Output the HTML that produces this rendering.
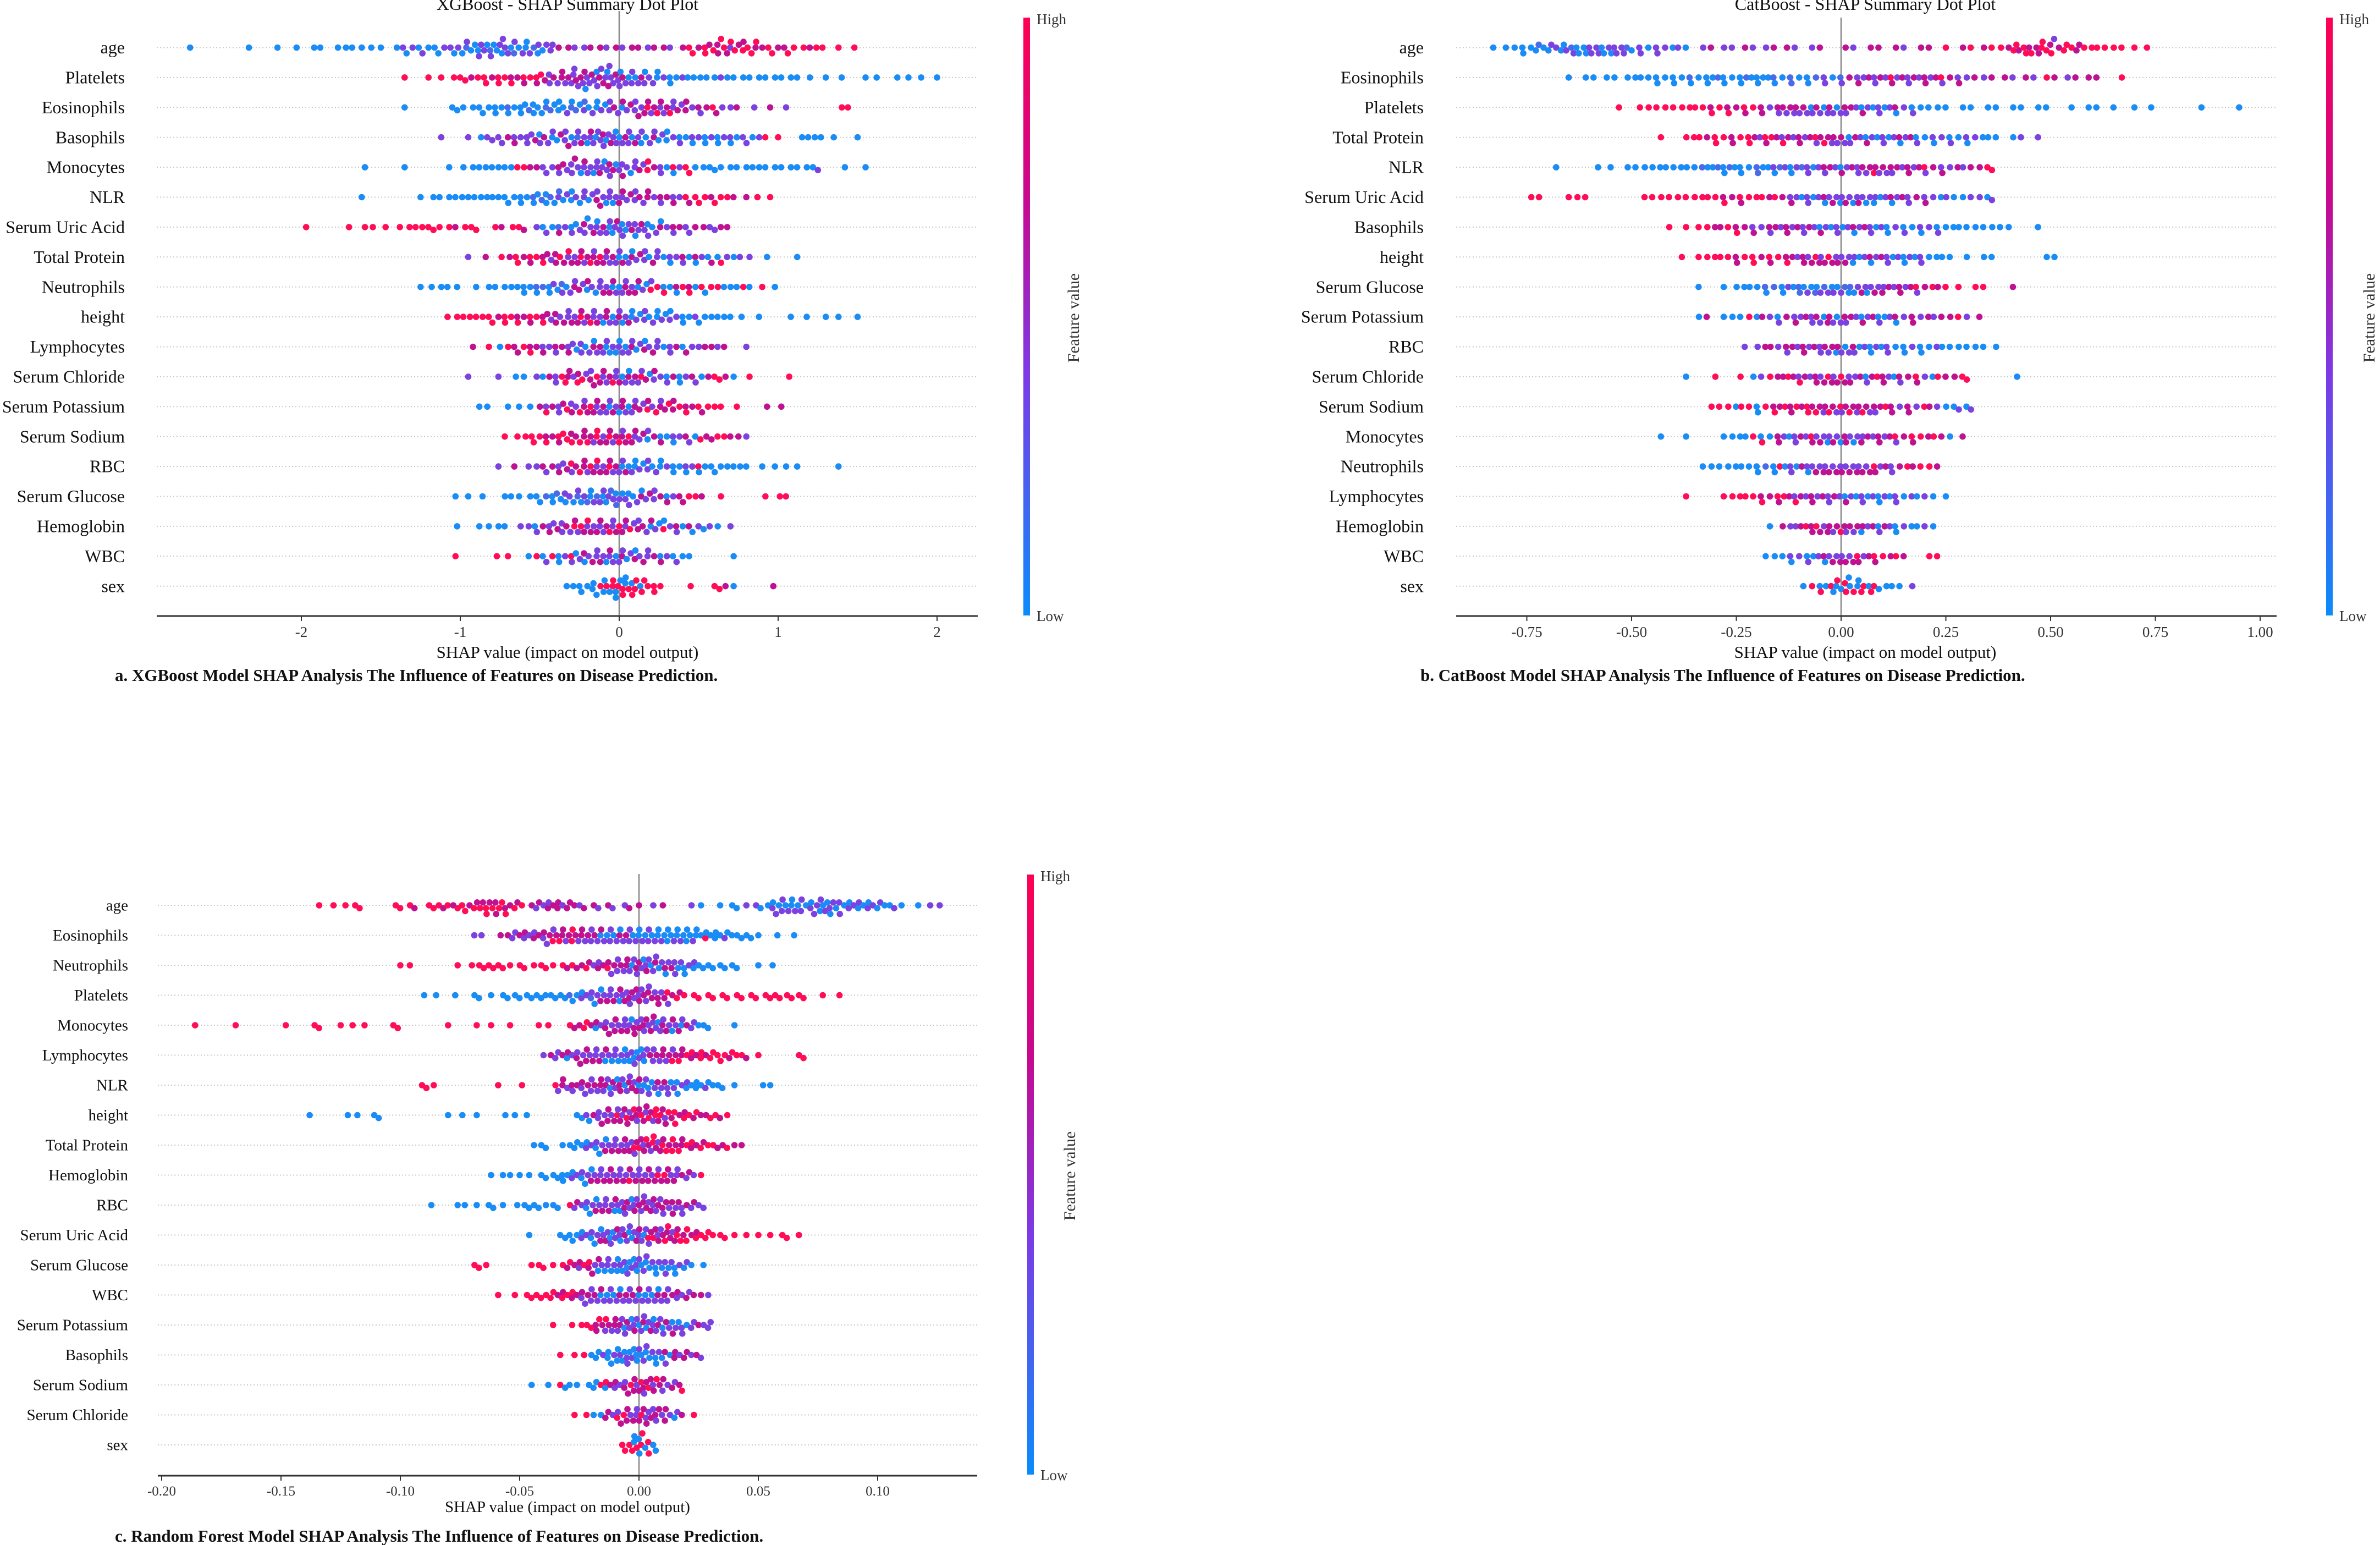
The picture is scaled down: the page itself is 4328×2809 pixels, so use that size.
<!DOCTYPE html>
<html><head><meta charset="utf-8"><style>
html,body{margin:0;padding:0;background:#fff;}
svg{display:block;font-family:"Liberation Serif",serif;}
</style></head><body>
<svg id="fig" width="4328" height="2809" viewBox="0 0 4328 2809" xmlns="http://www.w3.org/2000/svg">
<defs>
<linearGradient id="cbgrad" x1="0" y1="0" x2="0" y2="1">
<stop offset="0" stop-color="#ff0052"/><stop offset="0.3" stop-color="#c8088e"/><stop offset="0.6" stop-color="#7c3ae6"/><stop offset="1" stop-color="#0a8cfb"/>
</linearGradient>
</defs>
</svg>
<script>
// ===== XGBoost data =====
const xgbFeatures = ["age","Platelets","Eosinophils","Basophils","Monocytes","NLR","Serum Uric Acid","Total Protein","Neutrophils","height","Lymphocytes","Serum Chloride","Serum Potassium","Serum Sodium","RBC","Serum Glucose","Hemoglobin","WBC","sex"];
const xgbTicks = [-2,-1,0,1,2];
const xgbTickLabels = ["-2","-1","0","1","2"];
const xgbPoints = [
["-2.7:b","-2.33:b","-2.15:b","-2.03:b","-1.9:bb","-1.77:b","-1.7:bb","-1.62:b","-1.56:b","-1.5:b","-1.38:bv","-1.3:bvb","-1.2:vbb","-1.1:bvv","-1.0:bvbl","-0.92:vbbv","-0.85:bvvbl","-0.77:vbbvv","-0.7:bvvbl","-0.62:vbvb","-0.55:bvlb","-0.47:vbvv","-0.4:vp","-0.3:pv","-0.2:vp","-0.1:pv","0:pv","0.1:pp","0.2:vp","0.3:pv","0.42:pr","0.5:rpr","0.58:rprp","0.66:prrpv","0.74:rrpr","0.82:prrp","0.9:rpr","1.0:rpp","1.08:rr","1.18:rp","1.26:rr","1.38:r","1.48:r"],
["-1.35:r","-1.2:r","-1.12:r","-1.02:rr","-0.95:rp","-0.87:rr","-0.8:rpr","-0.72:rrp","-0.64:rpr","-0.56:prr","-0.48:prpv","-0.4:vpvp","-0.32:pvpvv","-0.25:vpvpvb","-0.18:pvvpvb","-0.1:vpvpvbv","-0.03:pvvpvb","0.04:vpvbv","0.12:vbvpv","0.2:bvvb","0.28:bvb","0.36:bbv","0.45:bb","0.53:bb","0.62:bv","0.7:bb","0.8:bb","0.9:bb","1.0:bb","1.1:bb","1.2:b","1.3:b","1.4:b","1.55:b","1.62:b","1.75:b","1.82:b","1.9:b","2.0:b"],
["-1.35:b","-1.05:b","-1.0:bb","-0.9:bb","-0.82:bbb","-0.74:bbl","-0.66:bbb","-0.58:bblb","-0.5:bbbl","-0.42:blbb","-0.34:bbvl","-0.26:blbv","-0.18:lbvb","-0.1:bvbv","-0.02:vpvb","0.06:pvpv","0.14:vpvpr","0.22:pvprv","0.3:pvprv","0.38:vpvp","0.46:pvp","0.55:vpr","0.63:pv","0.72:vp","0.85:v","0.95:p","1.05:v","1.42:rr"],
["-1.12:v","-0.95:v","-0.85:bv","-0.78:vv","-0.7:vpv","-0.62:pvv","-0.54:vvpb","-0.46:vpvb","-0.38:vbpv","-0.3:vpbvl","-0.22:vpvbv","-0.14:pvbvvp","-0.06:vbvpvb","0.02:vbvpv","0.1:vbpvb","0.18:vbvp","0.26:vbvb","0.34:bvb","0.42:vbv","0.5:bvb","0.58:bvb","0.66:bvv","0.74:bbv","0.82:vb","0.9:vr","1.0:r","1.17:bb","1.25:bb","1.35:b","1.5:b"],
["-1.6:b","-1.35:b","-1.07:b","-0.98:b","-0.9:bb","-0.82:bb","-0.74:bb","-0.66:br","-0.58:rp","-0.5:pv","-0.42:vvp","-0.34:vpvv","-0.26:vpvbv","-0.18:pvvbv","-0.1:vpvbvp","-0.02:vpbvv","0.06:pvbv","0.14:vpvr","0.22:rpv","0.3:vbr","0.38:bvr","0.46:rb","0.55:bb","0.62:bb","0.72:bb","0.82:bb","0.9:bb","1.0:bb","1.1:bb","1.2:bb","1.25:v","1.42:b","1.55:b"],
["-1.62:b","-1.25:b","-1.15:bb","-1.05:bb","-0.95:bbb","-0.85:bb","-0.76:bbb","-0.66:bbb","-0.58:bbl","-0.5:bblb","-0.42:blbv","-0.34:lbvb","-0.26:bvbv","-0.18:vbvp","-0.1:vpvbv","-0.02:vbvpv","0.06:pvpv","0.14:vpvp","0.22:pvp","0.3:vpv","0.38:pvr","0.46:pr","0.54:rrp","0.62:rr","0.7:rp","0.8:p","0.87:r","0.95:r"],
["-1.97:r","-1.7:r","-1.6:r","-1.55:r","-1.47:r","-1.38:r","-1.3:rr","-1.22:rr","-1.15:rr","-1.05:rp","-0.95:rr","-0.9:r","-0.76:rp","-0.65:rr","-0.6:p","-0.5:vb","-0.42:vbl","-0.34:pvb","-0.26:vbvp","-0.18:vbvpv","-0.1:bvpvb","-0.02:vbvpvb","0.06:vbvpv","0.14:bvpvb","0.22:vbvp","0.3:bvp","0.38:vpv","0.46:vp","0.55:pv","0.62:vp","0.68:p"],
["-0.95:v","-0.84:p","-0.74:r","-0.67:pr","-0.6:rpr","-0.52:prp","-0.44:rpvp","-0.36:prpv","-0.28:rpvpr","-0.2:pvprp","-0.12:vprpv","-0.04:pvpvb","0.04:vpbvp","0.12:bvpv","0.2:vbpv","0.28:vbv","0.36:bvp","0.44:vbp","0.52:bvb","0.6:pb","0.66:rv","0.74:bv","0.82:v","0.93:b","1.12:b"],
["-1.25:b","-1.18:b","-1.1:bb","-1.02:b","-0.9:b","-0.8:bb","-0.72:b","-0.64:bbb","-0.56:bbl","-0.48:blb","-0.4:bvbl","-0.32:vbvp","-0.24:vpvb","-0.16:pvbv","-0.08:vpvpb","0:pvbvp","0.08:vpvpb","0.16:pvbr","0.24:vrb","0.32:rbp","0.4:brp","0.48:rbr","0.56:br","0.64:rb","0.72:bb","0.8:rb","0.9:r","0.98:b"],
["-1.08:r","-1.0:rr","-0.92:rr","-0.84:rr","-0.76:rpr","-0.68:rrp","-0.6:rpr","-0.52:prp","-0.44:rpvp","-0.36:pvpv","-0.28:vpvpr","-0.2:pvprv","-0.12:vpvbp","-0.04:pvbvp","0.04:vbvpb","0.12:bvbv","0.2:vbvb","0.28:bvbv","0.36:bvb","0.44:bbv","0.52:bb","0.6:bb","0.68:bb","0.77:b","0.88:b","1.08:b","1.18:b","1.3:b","1.38:b","1.5:b"],
["-0.92:p","-0.82:r","-0.75:b","-0.68:rp","-0.6:prp","-0.52:rpv","-0.44:pvp","-0.36:vpv","-0.28:pvbv","-0.2:vbvp","-0.12:bvpvb","-0.04:vbvbv","0.04:bvbvp","0.12:vbvp","0.2:bvpv","0.28:vbv","0.36:vpb","0.44:pv","0.52:vp","0.6:pv","0.66:p","0.8:v"],
["-0.95:v","-0.76:v","-0.65:b","-0.6:b","-0.5:vb","-0.42:pv","-0.36:vrp","-0.3:rpvr","-0.22:prvp","-0.14:vprpv","-0.06:pvprv","0.02:vpbvp","0.1:bvpvr","0.18:vpbv","0.26:pvb","0.34:vpb","0.42:bvp","0.5:vb","0.58:pr","0.65:rp","0.72:b","0.82:r","1.07:r"],
["-0.88:b","-0.83:b","-0.7:b","-0.63:b","-0.56:b","-0.48:pv","-0.42:rpv","-0.34:vprv","-0.26:pvrp","-0.18:vprpv","-0.1:pvpvb","-0.02:vpvbp","0.06:pvbvp","0.14:vpvr","0.22:pvrp","0.3:vprp","0.38:prp","0.46:rpr","0.54:pr","0.62:rr","0.74:r","0.93:p","1.02:p"],
["-0.72:r","-0.64:r","-0.57:rr","-0.5:rrp","-0.42:rpr","-0.34:prrp","-0.26:rprp","-0.18:prpvr","-0.1:rpvpr","-0.02:pvprp","0.06:vprpv","0.14:pvpb","0.22:vpb","0.3:pbv","0.38:bvp","0.46:vb","0.53:rp","0.6:pr","0.68:rp","0.75:p","0.8:v"],
["-0.76:v","-0.66:p","-0.57:v","-0.5:vp","-0.42:vpv","-0.34:pvpr","-0.26:vprp","-0.18:pvrpv","-0.1:rpvpr","-0.02:pvpvb","0.06:vpbvb","0.14:bvbv","0.22:vbvb","0.3:bvb","0.38:bbv","0.46:bvr","0.54:bbb","0.62:bb","0.7:bb","0.78:bb","0.9:b","0.98:b","1.05:b","1.12:b","1.38:b"],
["-1.03:b","-0.95:b","-0.86:b","-0.7:bb","-0.63:b","-0.54:bb","-0.46:blb","-0.38:blbv","-0.3:bvbl","-0.22:vbvlb","-0.14:bvlvb","-0.06:vbvlvb","0.02:lvbvb","0.1:vbvp","0.18:bvpv","0.26:vpb","0.34:pvp","0.42:pr","0.5:rp","0.64:r","0.92:r","1.03:rr"],
["-1.02:b","-0.88:b","-0.82:b","-0.74:bb","-0.62:v","-0.55:vb","-0.48:vpv","-0.4:pvpv","-0.32:vpvr","-0.24:pvrpv","-0.16:rpvpv","-0.08:pvprv","0:vprpv","0.08:prvp","0.16:vpvb","0.24:pvbr","0.32:bvp","0.4:vbp","0.48:bv","0.55:bv","0.62:b","0.7:v"],
["-1.03:r","-0.77:r","-0.7:r","-0.57:b","-0.5:rb","-0.42:vrb","-0.34:bvr","-0.26:vbvp","-0.18:bvpv","-0.1:vpvbv","-0.02:pvbvp","0.06:vbvp","0.14:bvpv","0.22:vpb","0.3:pvb","0.38:vb","0.44:b","0.72:b"],
["-0.33:b","-0.27:bb","-0.2:bbb","-0.13:bbrb","-0.06:brbrb","0:rbrbrb","0.06:rbrbr","0.12:rrbr","0.18:rrr","0.24:rr","0.45:r","0.6:r","0.65:rp","0.72:b","0.97:p"]
];
// ===== CatBoost data =====
const catFeatures = ["age","Eosinophils","Platelets","Total Protein","NLR","Serum Uric Acid","Basophils","height","Serum Glucose","Serum Potassium","RBC","Serum Chloride","Serum Sodium","Monocytes","Neutrophils","Lymphocytes","Hemoglobin","WBC","sex"];
const catTicks = [-0.75,-0.5,-0.25,0,0.25,0.5,0.75,1.0];
const catTickLabels = ["-0.75","-0.50","-0.25","0.00","0.25","0.50","0.75","1.00"];
const catPoints = [
["-0.83:b","-0.8:b","-0.77:bb","-0.74:bbl","-0.71:bbv","-0.68:bvb","-0.65:bvlb","-0.62:vbbv","-0.59:bvvb","-0.56:vbvv","-0.53:bvvl","-0.5:vbv","-0.46:vbv","-0.42:vvb","-0.38:vb","-0.32:vp","-0.27:vv","-0.22:pv","-0.17:vp","-0.12:pv","-0.06:vp","0.02:pv","0.08:pp","0.14:pv","0.2:pp","0.25:r","0.3:pr","0.35:pr","0.4:rpr","0.43:rprp","0.46:rrpr","0.49:prrpv","0.52:rpr","0.55:rrp","0.58:prr","0.62:rr","0.66:rr","0.7:r","0.73:r"],
["-0.65:b","-0.6:bb","-0.55:bb","-0.5:bb","-0.46:bbb","-0.42:bbb","-0.38:bbl","-0.34:bbb","-0.3:bblb","-0.26:bbb","-0.22:blbb","-0.18:bbbl","-0.14:bbl","-0.1:lbb","-0.06:blv","-0.02:vbl","0.02:vpv","0.06:pvpv","0.1:vpvr","0.14:pvpv","0.18:vpvp","0.22:pvpr","0.26:vpv","0.3:pvp","0.35:vp","0.4:pv","0.45:pv","0.5:rp","0.55:vp","0.6:pp","0.67:r"],
["-0.53:r","-0.48:r","-0.45:rr","-0.41:rr","-0.37:rr","-0.33:rrp","-0.29:rrp","-0.25:rpr","-0.21:prp","-0.17:pvp","-0.13:vpvpv","-0.09:pvpvb","-0.05:vpvbv","-0.01:pvbvp","0.03:vpvb","0.07:pvbv","0.11:vbvp","0.15:bvb","0.19:vbb","0.24:bb","0.3:bb","0.36:bb","0.42:bb","0.48:bb","0.55:b","0.6:bb","0.65:b","0.7:b","0.74:b","0.86:b","0.95:b"],
["-0.43:r","-0.36:rr","-0.32:rpr","-0.28:rrp","-0.24:prr","-0.2:rpvr","-0.16:prpv","-0.12:rpvp","-0.08:pvpr","-0.04:vprpv","0:pvpvb","0.04:vpvb","0.08:pvbv","0.12:vbvp","0.16:bvpb","0.2:vbv","0.24:bvb","0.28:vbv","0.32:bvb","0.36:bb","0.42:bv","0.47:v"],
["-0.68:b","-0.58:b","-0.55:b","-0.5:bb","-0.45:bbb","-0.4:bbb","-0.35:bbl","-0.3:bblb","-0.26:blbb","-0.22:bbl","-0.18:lbbv","-0.14:blvb","-0.1:bvlv","-0.06:vbvp","-0.02:vpvb","0.02:pvpv","0.06:vpvpr","0.1:pvpvp","0.14:vpvp","0.18:pvpr","0.22:vpv","0.26:pvp","0.3:vp","0.34:pr","0.36:r"],
["-0.73:rr","-0.65:r","-0.62:rr","-0.46:rr","-0.42:rr","-0.38:rr","-0.34:rr","-0.3:rrp","-0.26:rpr","-0.22:prr","-0.18:rp","-0.14:rpv","-0.1:pvbv","-0.06:vbvp","-0.02:bvpvb","0.02:vpvbv","0.06:pvbvb","0.1:vbvp","0.14:bvpv","0.18:vpv","0.22:pvb","0.26:vb","0.3:bv","0.34:vb","0.36:v"],
["-0.41:r","-0.37:r","-0.34:r","-0.31:rp","-0.27:prp","-0.23:rpv","-0.19:pvp","-0.15:vpvp","-0.11:pvpv","-0.07:vpvb","-0.03:pvbv","0.01:vbvp","0.05:bvpv","0.09:vbvb","0.13:bvb","0.17:vbv","0.21:bvb","0.25:vbb","0.29:bb","0.33:bb","0.37:bb","0.4:b","0.47:b"],
["-0.38:r","-0.34:r","-0.31:rr","-0.27:rrp","-0.23:prr","-0.19:rpr","-0.15:prp","-0.11:rpvp","-0.07:pvprp","-0.03:vprpv","0.01:pvpvb","0.05:vbvp","0.09:bvpv","0.13:vbvb","0.17:bvbv","0.21:vbb","0.25:bb","0.3:b","0.35:bb","0.5:bb"],
["-0.34:b","-0.28:b","-0.24:bb","-0.2:bbl","-0.16:blb","-0.12:bvbl","-0.08:lbvbl","-0.04:bvlvb","0:vbvlb","0.04:lbvpv","0.08:bvpvp","0.12:vpvp","0.16:pvpr","0.2:vpr","0.24:pr","0.28:r","0.33:rr","0.41:p"],
["-0.33:bp","-0.28:b","-0.25:bb","-0.21:rb","-0.17:pvb","-0.13:vpv","-0.09:pvpv","-0.05:vpvbp","-0.01:pvbvp","0.03:vpvb","0.07:pvpb","0.11:vbvp","0.15:bvp","0.19:pvp","0.23:vp","0.27:pr","0.3:v","0.33:p"],
["-0.23:v","-0.19:vp","-0.15:pvp","-0.11:vpvp","-0.07:pvpv","-0.03:vpvpb","0.01:pvbvp","0.05:vbvb","0.09:bvbv","0.13:vbb","0.17:bvb","0.21:bbv","0.25:bb","0.29:bb","0.33:bb","0.37:b"],
["-0.37:b","-0.3:r","-0.24:r","-0.2:bv","-0.16:rp","-0.12:prpv","-0.08:rpvp","-0.04:pvprp","0:vprpv","0.04:pvpb","0.08:vprp","0.12:pvbp","0.16:vpr","0.2:pvb","0.24:rp","0.28:pr","0.3:r","0.42:b"],
["-0.3:rr","-0.26:rb","-0.22:rrb","-0.18:brp","-0.14:rprp","-0.1:prpr","-0.06:rprpv","-0.02:prpvr","0.02:vprpv","0.06:prpvp","0.1:vprp","0.14:pvp","0.18:pvr","0.22:pv","0.26:bb","0.29:vb","0.31:v"],
["-0.43:b","-0.37:b","-0.28:b","-0.25:bb","-0.21:brb","-0.17:rbp","-0.13:pvbv","-0.09:vpvr","-0.05:pvpvb","-0.01:vpvbp","0.03:pvbvp","0.07:vpvp","0.11:pvpr","0.15:vpr","0.19:prp","0.23:rp","0.26:b","0.29:p"],
["-0.33:b","-0.3:bb","-0.26:bb","-0.22:bbb","-0.18:blb","-0.14:brbv","-0.1:vbpv","-0.06:bvpvp","-0.02:vpvpv","0.02:pvpvp","0.06:vpvpr","0.1:pvpv","0.14:vpr","0.18:pr","0.22:rp"],
["-0.37:r","-0.28:r","-0.25:rr","-0.21:rrp","-0.17:rpr","-0.13:prpv","-0.09:rpvp","-0.05:pvpv","-0.01:vpvb","0.03:pvbv","0.07:vbvb","0.11:bvbv","0.15:vbv","0.19:bv","0.22:b","0.25:b"],
["-0.17:b","-0.13:pv","-0.09:vprp","-0.05:prpvp","-0.01:pvprp","0.03:vpvpb","0.07:pvpb","0.11:vpvb","0.15:bvb","0.19:bv","0.22:b"],
["-0.18:b","-0.14:bbv","-0.1:bvb","-0.06:vbvp","-0.02:bvpvp","0.02:vpvpr","0.06:pvpr","0.1:prp","0.14:rp","0.22:rr"],
["-0.09:b","-0.06:rb","-0.03:rbrb","0:brbrb","0.03:rbrbr","0.06:brbr","0.09:rbb","0.13:bb","0.17:v"]
];
// ===== Random Forest data =====
const rfFeatures = ["age","Eosinophils","Neutrophils","Platelets","Monocytes","Lymphocytes","NLR","height","Total Protein","Hemoglobin","RBC","Serum Uric Acid","Serum Glucose","WBC","Serum Potassium","Basophils","Serum Sodium","Serum Chloride","sex"];
const rfTicks = [-0.2,-0.15,-0.1,-0.05,0,0.05,0.1];
const rfTickLabels = ["-0.20","-0.15","-0.10","-0.05","0.00","0.05","0.10"];
const rfPoints = [
["-0.134:r","-0.128:r","-0.123:r","-0.118:rr","-0.101:rr","-0.095:rp","-0.087:rr","-0.082:rpr","-0.076:prr","-0.071:rpr","-0.066:prpr","-0.062:rprp","-0.058:prrp","-0.054:rpr","-0.05:pr","-0.044:pv","-0.04:pvp","-0.036:vpp","-0.032:pvp","-0.028:pp","-0.024:vp","-0.018:pv","-0.012:pv","-0.005:vp","0:p","0.006:v","0.01:p","0.022:v","0.026:b","0.034:b","0.04:bb","0.045:v","0.05:vb","0.055:bv","0.058:bvbv","0.062:vbvb","0.066:bvbv","0.07:vbv","0.074:bvvb","0.078:vbvbv","0.082:bvbv","0.086:vbv","0.09:bvb","0.094:vbv","0.098:bvb","0.102:vb","0.106:bv","0.11:b","0.117:b","0.122:v","0.126:v"],
["-0.069:v","-0.066:v","-0.058:p","-0.054:pv","-0.05:vpv","-0.046:pvp","-0.042:vpv","-0.038:pvpr","-0.034:vprp","-0.03:pvpr","-0.026:rpvp","-0.022:pvpv","-0.018:vpvb","-0.014:pvbv","-0.01:vbvp","-0.006:bvpv","-0.002:vbvb","0.002:bvbv","0.006:vbvb","0.01:bvbb","0.014:bbvb","0.018:bvbb","0.022:bbvb","0.026:bbr","0.03:bbb","0.034:bbv","0.038:bb","0.042:bb","0.046:bb","0.05:b","0.058:b","0.065:b"],
["-0.1:r","-0.096:r","-0.076:r","-0.07:r","-0.066:rr","-0.062:rr","-0.058:rr","-0.054:r","-0.049:rr","-0.044:r","-0.04:rr","-0.036:r","-0.031:rp","-0.027:rp","-0.023:pr","-0.019:pvp","-0.015:vpr","-0.011:pvpv","-0.007:vpvp","-0.003:pvbvp","0.001:vpvbv","0.005:pvbvp","0.009:vbvp","0.013:bvpv","0.017:vbvb","0.021:bvb","0.025:vbb","0.03:bb","0.035:bb","0.04:bb","0.05:b","0.056:b"],
["-0.09:b","-0.085:b","-0.077:b","-0.068:bb","-0.062:b","-0.056:bb","-0.051:bb","-0.046:bb","-0.041:bbb","-0.036:bb","-0.031:bbl","-0.026:bbv","-0.022:bvl","-0.018:vbvp","-0.014:bvpv","-0.01:vpvb","-0.006:pvpvp","-0.002:vpvpv","0.002:pvpvp","0.006:vpvp","0.01:pvpr","0.014:vpr","0.018:pr","0.024:rr","0.03:rr","0.036:rr","0.042:rr","0.048:rr","0.054:rr","0.058:rr","0.063:rr","0.068:rr","0.077:r","0.084:r"],
["-0.186:r","-0.169:r","-0.148:r","-0.135:rr","-0.125:r","-0.12:r","-0.115:r","-0.102:rr","-0.08:r","-0.068:r","-0.062:r","-0.054:r","-0.042:r","-0.038:r","-0.028:rp","-0.024:pr","-0.02:rpb","-0.016:pvp","-0.012:vpvp","-0.008:pvpv","-0.004:vpvbp","0:pvpvp","0.004:vpvpv","0.008:pvbvp","0.012:vpvb","0.016:pvpb","0.02:vpv","0.024:vb","0.028:bb","0.04:b"],
["-0.04:v","-0.036:pv","-0.032:vpb","-0.028:pvp","-0.024:vpvp","-0.02:pvpv","-0.016:vpvb","-0.012:pvbv","-0.008:vbvb","-0.004:bvbvb","0:vbvbv","0.004:bvpv","0.008:vpvp","0.012:pvpr","0.016:vprp","0.02:prp","0.024:rpr","0.028:rpr","0.032:rr","0.036:rrp","0.04:rr","0.044:rp","0.05:r","0.068:rr"],
["-0.09:rr","-0.086:r","-0.059:r","-0.049:r","-0.035:r","-0.033:vp","-0.03:pvp","-0.026:vpv","-0.022:pvpv","-0.018:vpvp","-0.014:pvpvb","-0.01:vpvbp","-0.006:pvbvp","-0.002:vpvpb","0.002:pvbvb","0.006:vbvp","0.01:bvpv","0.014:vbvb","0.018:bvb","0.022:vbb","0.026:bbv","0.03:bb","0.034:bb","0.04:b","0.052:b","0.055:b"],
["-0.138:b","-0.122:b","-0.118:b","-0.11:bb","-0.08:b","-0.074:b","-0.068:b","-0.056:b","-0.052:b","-0.047:b","-0.026:b","-0.023:bv","-0.019:bpv","-0.015:vpvp","-0.011:pvpr","-0.007:vpvpr","-0.003:pvprp","0.001:vprpv","0.005:prpvr","0.009:rprpv","0.013:prpr","0.017:rpr","0.021:prp","0.025:rp","0.029:pr","0.033:rp","0.037:r"],
["-0.044:b","-0.04:bb","-0.032:b","-0.028:bb","-0.024:bbv","-0.02:bvb","-0.016:vbvp","-0.012:bvpv","-0.008:vpvp","-0.004:pvpvr","0:vprpv","0.004:prpvr","0.008:rpvpr","0.012:prpr","0.016:rprp","0.02:prp","0.024:rpr","0.028:pr","0.032:rp","0.036:pr","0.04:p","0.043:p"],
["-0.062:b","-0.057:b","-0.054:b","-0.05:b","-0.046:b","-0.04:bb","-0.034:bbb","-0.03:bbv","-0.026:bvb","-0.022:vbvp","-0.018:bvpv","-0.014:vpvp","-0.01:pvpv","-0.006:vpvr","-0.002:pvpv","0.002:vpvp","0.006:pvpr","0.01:vprp","0.014:pvpv","0.018:vpv","0.022:pv","0.026:r"],
["-0.087:b","-0.076:b","-0.073:b","-0.068:b","-0.062:bb","-0.057:b","-0.051:b","-0.047:bb","-0.043:bb","-0.039:b","-0.035:bb","-0.028:rv","-0.024:pvb","-0.02:vbvp","-0.016:bvpv","-0.012:vpvb","-0.008:pvbvp","-0.004:vpvbv","0:pvpvp","0.004:vpvpv","0.008:pvpvp","0.012:vpvp","0.016:pvpv","0.02:vpv","0.024:pv","0.027:v"],
["-0.046:b","-0.033:b","-0.03:bb","-0.026:bbv","-0.022:bvb","-0.018:vbvp","-0.014:bvpvb","-0.01:vbvpv","-0.006:bvpvb","-0.002:vbvpv","0.002:pvbvr","0.006:vprpv","0.01:pvprp","0.014:rpvpr","0.018:prpr","0.022:rpr","0.026:prr","0.03:rr","0.035:rr","0.04:r","0.045:r","0.05:r","0.055:r","0.061:rr","0.067:r"],
["-0.068:rr","-0.064:r","-0.045:r","-0.041:rr","-0.036:r","-0.031:rp","-0.027:rpv","-0.023:prp","-0.019:rpvb","-0.015:pvbv","-0.011:vbvb","-0.007:bvbvb","-0.003:vbvbv","0.001:bvbvb","0.005:vbvb","0.009:bvbv","0.013:vbvb","0.017:bvb","0.021:vb","0.027:b"],
["-0.059:r","-0.052:r","-0.046:rr","-0.042:rr","-0.038:rr","-0.034:rpr","-0.03:prp","-0.026:rpv","-0.022:pvpv","-0.018:vpvb","-0.014:pvbv","-0.01:vbvp","-0.006:bvpv","-0.002:vpvb","0.002:pvbv","0.006:vbvp","0.01:bvpv","0.014:vpv","0.018:pvp","0.022:vp","0.026:p","0.029:v"],
["-0.036:r","-0.028:r","-0.024:r","-0.02:rrp","-0.016:prpv","-0.012:rpvp","-0.008:pvpvb","-0.004:vpvbv","0:pvbvp","0.004:vbvpv","0.008:bvpvb","0.012:vpvb","0.016:pvbv","0.02:vbv","0.024:vp","0.028:vv","0.03:v"],
["-0.033:r","-0.027:r","-0.023:r","-0.019:bb","-0.015:bvb","-0.011:bbvb","-0.007:bvbbv","-0.003:vbvbb","0.001:bvbvb","0.005:vbvb","0.009:bvbp","0.013:vbp","0.017:pvp","0.021:pv","0.025:pv"],
["-0.045:b","-0.038:b","-0.033:r","-0.03:bb","-0.026:b","-0.02:bb","-0.016:brb","-0.012:rpv","-0.008:pvp","-0.004:vprp","0:pvprp","0.004:vprpv","0.008:prpv","0.012:pvp","0.016:vp","0.018:r"],
["-0.027:r","-0.022:r","-0.019:b","-0.015:bp","-0.011:pvr","-0.007:vprp","-0.003:pvpv","0.001:vprpv","0.005:pvpvp","0.009:vpvp","0.013:pvb","0.017:vp","0.023:r"],
["-0.007:r","-0.004:rrb","-0.001:rbrbr","0.002:brbr","0.005:rb","0.007:b"]
];

const NS = "http://www.w3.org/2000/svg";
const svg = document.getElementById('fig');
const COLORS = {b:"#1a8cf5", l:"#4a6ae8", v:"#7b42e0", p:"#bf1290", r:"#ff0d57"};

function mk(tag, attrs, parent){
  const e = document.createElementNS(NS, tag);
  for (const k in attrs) e.setAttribute(k, attrs[k]);
  (parent||svg).appendChild(e);
  return e;
}
function txt(parent, x, y, s, size, anchor, extra){
  const t = mk('text', Object.assign({x:x, y:y, 'font-size':size, 'text-anchor':anchor||'start', fill:'#111'}, extra||{}), parent);
  t.textContent = s;
  return t;
}

function drawPanel(cfg, features, points, ticks, tickLabels){
  const g = mk('g', {});
  
  
  const xs = v => cfg.x0 + v*cfg.unit;
  const ys = i => cfg.row0 + i*cfg.rowStep;
  if (cfg.title){
    const t = txt(g, cfg.titleX, cfg.titleY, cfg.title, 32, 'middle');
    
    
  }
  features.forEach((f,i)=>{
    const ln = mk('line', {x1:cfg.axisL, x2:cfg.axisR, y1:ys(i), y2:ys(i), stroke:'#c8c8c8', 'stroke-width':2, 'stroke-dasharray':'2 4'}, g);
    
    
    const t = txt(g, cfg.labelX, ys(i)+cfg.labSize*0.33, f, cfg.labSize, 'end');
    
    
  });
  const zl = mk('line', {x1:xs(0), x2:xs(0), y1:cfg.zeroTop, y2:cfg.axisY, stroke:'#888', 'stroke-width':2.5}, g);
  
  
  const dg = mk('g', {}, g);
  
  
  points.forEach((row, i)=>{
    const pts = [];
    row.forEach(tok=>{
      const [vs, cs] = tok.split(':');
      const v = parseFloat(vs);
      const n = cs.length;
      const sp = n>1 ? Math.min(cfg.fill/(n-1), cfg.fill/2) : 0;
      for (let k=0;k<n;k++){
        pts.push({x: xs(v) + (k-(n-1)/2)*sp, c: COLORS[cs[k]]});
      }
    });
    pts.sort((a,b)=>a.x-b.x);
    const placed = [];
    const D = cfg.r*1.6, step = cfg.r*0.9;
    pts.forEach(p=>{
      let best = 0;
      for (let k=0;k<16;k++){
        const off = (k===0)?0:(k%2===1? Math.ceil(k/2)*step : -Math.ceil(k/2)*step);
        let ok = true;
        for (let j=placed.length-1;j>=0;j--){
          const q = placed[j];
          if (p.x - q.x > D) break;
          const dy = off - q.y;
          if ((p.x-q.x)*(p.x-q.x)+dy*dy < D*D){ ok=false; break; }
        }
        best = off;
        if (ok) break;
      }
      placed.push({x:p.x, y:best});
      const c = mk('circle', {cx:p.x.toFixed(1), cy:(ys(i)+best).toFixed(1), r:cfg.r, fill:p.c}, dg);
      
      
    });
  });
  const ax = mk('line', {x1:cfg.axisL, x2:cfg.axisR, y1:cfg.axisY, y2:cfg.axisY, stroke:'#333', 'stroke-width':3}, g);
  
  
  ticks.forEach((tv,k)=>{
    const tk = mk('line', {x1:xs(tv), x2:xs(tv), y1:cfg.axisY, y2:cfg.axisY+9, stroke:'#333', 'stroke-width':2}, g);
    
    
    const t = txt(g, xs(tv), cfg.tickY, tickLabels[k], cfg.tickSize, 'middle', {fill:'#333'});
    
    
  });
  const xl = txt(g, cfg.xlabX, cfg.xlabY, 'SHAP value (impact on model output)', cfg.xlabSize, 'middle');
  
  
  const cb = mk('rect', {x:cfg.cbX, y:cfg.cbTop, width:12, height:cfg.cbBot-cfg.cbTop, fill:'url(#cbgrad)'}, g);
  
  
  const hi = txt(g, cfg.cbX+24, cfg.cbTop+12, 'High', 27, 'start', {fill:'#333'});
  
  
  const lo = txt(g, cfg.cbX+24, cfg.cbBot+10, 'Low', 27, 'start', {fill:'#333'});
  
  
  const fv = txt(g, 0, 0, 'Feature value', 30, 'middle', {fill:'#333', transform:`translate(${cfg.fvX},${cfg.fvY}) rotate(-90)`});
  
  
  const cap = txt(g, cfg.capX, cfg.capY, cfg.caption, 31, 'start', {'font-weight':'bold'});
  
  
}

drawPanel({name:'xgboost-panel', title:'XGBoost - SHAP Summary Dot Plot', titleX:1032, titleY:18,
  x0:1126, unit:289, axisL:285, axisR:1778, axisY:1120, row0:86.5, rowStep:54.4, labelX:227, labSize:32,
  zeroTop:20, r:5.8, fill:22, tickY:1158, tickSize:27, xlabX:1032, xlabY:1196, xlabSize:31,
  cbX:1861, cbTop:32, cbBot:1119, fvX:1962, fvY:578, capX:209, capY:1238,
  caption:'a. XGBoost Model SHAP Analysis The Influence of Features on Disease Prediction.'},
  xgbFeatures, xgbPoints, xgbTicks, xgbTickLabels);

drawPanel({name:'catboost-panel', title:'CatBoost - SHAP Summary Dot Plot', titleX:3392, titleY:18,
  x0:3348, unit:762, axisL:2648, axisR:4140, axisY:1120, row0:86.5, rowStep:54.4, labelX:2589, labSize:32,
  zeroTop:32, r:5.8, fill:28, tickY:1158, tickSize:27, xlabX:3392, xlabY:1196, xlabSize:31,
  cbX:4230, cbTop:32, cbBot:1119, fvX:4318, fvY:578, capX:2583, capY:1238,
  caption:'b. CatBoost Model SHAP Analysis The Influence of Features on Disease Prediction.'},
  catFeatures, catPoints, catTicks, catTickLabels);

drawPanel({name:'random-forest-panel', title:null,
  x0:1162, unit:4340, axisL:287, axisR:1777, axisY:2683, row0:1646, rowStep:54.5, labelX:233, labSize:29,
  zeroTop:1589, r:5.8, fill:16, tickY:2719, tickSize:25, xlabX:1032, xlabY:2749, xlabSize:29,
  cbX:1868, cbTop:1590, cbBot:2681, fvX:1955, fvY:2138, capX:209, capY:2803,
  caption:'c. Random Forest Model SHAP Analysis The Influence of Features on Disease Prediction.'},
  rfFeatures, rfPoints, rfTicks, rfTickLabels);
</script>
</body></html>
